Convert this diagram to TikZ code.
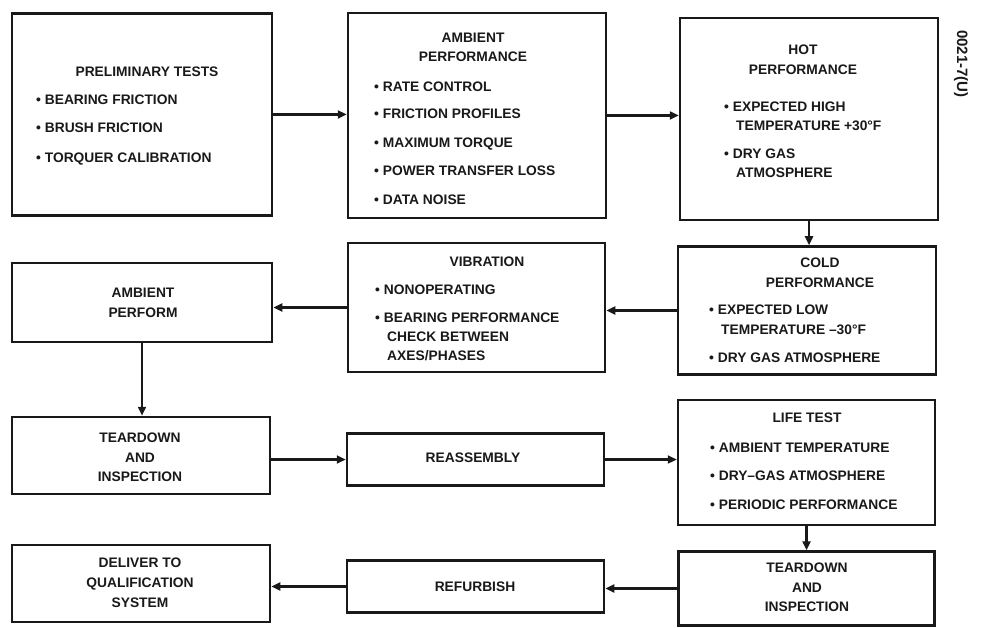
\documentclass[tikz,border=0pt]{standalone}
\usepackage{fontspec}
\setmainfont{Liberation Sans}
\usetikzlibrary{arrows.meta}
\tikzset{
  box/.style={draw=black!90, line width=2.5pt, inner sep=0pt, fill=white},
  txt/.style={inner sep=0pt, text height=9.8pt, text depth=0pt, font=\fontsize{13.8}{15}\selectfont\bfseries, text=black!90},
  lt/.style={txt, anchor=west},
  arr/.style={draw=black!90, line width=2.5pt, -{Triangle[length=9pt,width=8pt]}},
}
\begin{document}
\begin{tikzpicture}[x=1pt,y=-1pt]
\useasboundingbox[fill=white] (0,0) rectangle (988,628);
% boxes
\node[box, minimum width=260pt, minimum height=202pt] (prel) at (142,114.5) {};
\node[box, minimum width=258pt, minimum height=205pt] (ambp) at (477,115.5) {};
\node[box, minimum width=258pt, minimum height=202pt] (hot)  at (809,119) {};
\node[box, minimum width=260pt, minimum height=79pt]  (ambf) at (142,302.5) {};
\node[box, minimum width=257pt, minimum height=129pt] (vib)  at (476.5,307.5) {};
\node[box, minimum width=258pt, minimum height=128pt] (cold) at (807,310.5) {};
\node[box, minimum width=258pt, minimum height=77pt]  (tearA) at (141,455.5) {};
\node[box, minimum width=257pt, minimum height=52pt]  (reas) at (475.5,459.5) {};
\node[box, minimum width=257pt, minimum height=125pt] (life) at (806.5,462.5) {};
\node[box, minimum width=256pt, minimum height=74pt]  (tearB) at (806.5,588.5) {};
\node[box, minimum width=257pt, minimum height=52pt]  (refu) at (475.5,586.5) {};
\node[box, minimum width=258pt, minimum height=77pt]  (deli) at (141,583.5) {};
% texts: preliminary
\node[txt] (t1) at (147,72) {PRELIMINARY TESTS};
\node[lt] (t2) at (36,100) {• BEARING FRICTION};
\node[lt] (t3) at (36,128) {• BRUSH FRICTION};
\node[lt] (t4) at (36,158) {• TORQUER CALIBRATION};
% ambient performance
\node[txt] (a1) at (473,38) {AMBIENT};
\node[txt] (a2) at (473,57) {PERFORMANCE};
\node[lt] (a3) at (374,87) {• RATE CONTROL};
\node[lt] (a4) at (374,114) {• FRICTION PROFILES};
\node[lt] (a5) at (374,143) {• MAXIMUM TORQUE};
\node[lt] (a6) at (374,171) {• POWER TRANSFER LOSS};
\node[lt] (a7) at (374,200) {• DATA NOISE};
% hot
\node[txt] (h1) at (803,50) {HOT};
\node[txt] (h2) at (803,70) {PERFORMANCE};
\node[lt] (h3) at (724,107) {• EXPECTED HIGH};
\node[lt] (h4) at (736,126) {TEMPERATURE +30°F};
\node[lt] (h5) at (724,154) {• DRY GAS};
\node[lt] (h6) at (736,173) {ATMOSPHERE};
% ambient perform
\node[txt] (f1) at (143,293) {AMBIENT};
\node[txt] (f2) at (143,313) {PERFORM};
% vibration
\node[txt] (v1) at (487,262) {VIBRATION};
\node[lt] (v2) at (375,290) {• NONOPERATING};
\node[lt] (v3) at (375,318) {• BEARING PERFORMANCE};
\node[lt] (v4) at (387,337) {CHECK BETWEEN};
\node[lt] (v5) at (387,356) {AXES/PHASES};
% cold
\node[txt] (c1) at (820,263) {COLD};
\node[txt] (c2) at (820,283) {PERFORMANCE};
\node[lt] (c3) at (709,310) {• EXPECTED LOW};
\node[lt] (c4) at (721,330) {TEMPERATURE –30°F};
\node[lt] (c5) at (709,358) {• DRY GAS ATMOSPHERE};
% teardown A
\node[txt] (d1) at (140,438) {TEARDOWN};
\node[txt] (d2) at (140,458) {AND};
\node[txt] (d3) at (140,477) {INSPECTION};
% reassembly
\node[txt] (r1) at (473,458) {REASSEMBLY};
% life test
\node[txt] (l1) at (807,418) {LIFE TEST};
\node[lt] (l2) at (710,448) {• AMBIENT TEMPERATURE};
\node[lt] (l3) at (710,476) {• DRY–GAS ATMOSPHERE};
\node[lt] (l4) at (710,505) {• PERIODIC PERFORMANCE};
% teardown B
\node[txt] (e1) at (807,568) {TEARDOWN};
\node[txt] (e2) at (807,588) {AND};
\node[txt] (e3) at (807,607) {INSPECTION};
% refurbish
\node[txt] (u1) at (475,587) {REFURBISH};
% deliver
\node[txt] (g1) at (140,563) {DELIVER TO};
\node[txt] (g2) at (140,583) {QUALIFICATION};
\node[txt] (g3) at (140,603) {SYSTEM};
% side label
\node[txt, rotate=-90, font=\fontsize{15}{17}\selectfont\bfseries] (lab) at (962,64) {0021-7(U)};
% connectors
\draw[arr] (prel.east) -- (prel.east -| ambp.west);
\draw[arr] (ambp.east) -- (ambp.east -| hot.west);
\draw[arr] (hot.south) -- (hot.south |- cold.north);
\draw[arr] (cold.west) -- (cold.west -| vib.east);
\draw[arr] (vib.west) -- (vib.west -| ambf.east);
\draw[arr] (ambf.south) -- (ambf.south |- tearA.north);
\draw[arr] (reas.west -| tearA.east) -- (reas.west);
\draw[arr] (reas.east) -- (reas.east -| life.west);
\draw[arr] (life.south) -- (life.south |- tearB.north);
\draw[arr] (tearB.west) -- (tearB.west -| refu.east);
\draw[arr] (refu.west) -- (refu.west -| deli.east);
\end{tikzpicture}
\end{document}
